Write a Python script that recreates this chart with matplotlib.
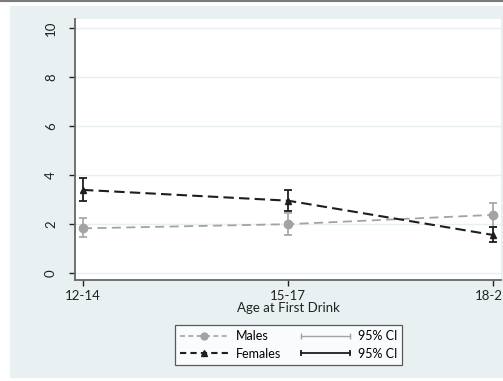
import matplotlib
matplotlib.use("Agg")
import matplotlib.pyplot as plt
from matplotlib.patches import Rectangle
from matplotlib.lines import Line2D
from matplotlib.legend_handler import HandlerLine2D

plt.rcParams['font.family'] = ['Lato', 'DejaVu Sans']

ages = ['12-14', '15-17', '18-25']
males = [1.82, 1.99, 2.37]
males_lo = [1.48, 1.53, 1.89]
males_hi = [2.23, 2.45, 2.84]
females = [3.39, 2.95, 1.55]
females_lo = [2.95, 2.54, 1.28]
females_hi = [3.88, 3.39, 1.87]

male_col = '#a3a3a3'
fem_col = '#1e1e1e'
panel_col = '#e9f0f2'

fig = plt.figure(figsize=(5.03, 3.81), dpi=100)
W, H = 503, 381

# graph region panel + top border line
fig.patches.append(Rectangle((10 / W, 1 - 378 / H), 493 / W, 372 / H,
                             transform=fig.transFigure, facecolor=panel_col,
                             edgecolor='none', zorder=-5))
fig.lines.append(Line2D([0, 1], [1 - 1 / H, 1 - 1 / H], transform=fig.transFigure,
                        color='#7a7a7a', lw=1.5, zorder=-4))

ax = fig.add_axes([75 / W, 1 - 280 / H, 426 / W, 261 / H])
ax.set_facecolor('white')

x = list(range(len(ages)))
m_err = [[m - l for m, l in zip(males, males_lo)], [h - m for m, h in zip(males, males_hi)]]
f_err = [[m - l for m, l in zip(females, females_lo)], [h - m for m, h in zip(females, females_hi)]]

ax.errorbar(x, males, yerr=m_err, fmt='none', ecolor=male_col, elinewidth=1.2,
            capsize=3, capthick=1.2, zorder=3)
ax.plot(x, males, color=male_col, ls=(0, (5, 3)), lw=1.3, marker='o', ms=6,
        zorder=4)
ax.errorbar(x, females, yerr=f_err, fmt='none', ecolor=fem_col, elinewidth=1.3,
            capsize=3, capthick=1.3, zorder=5)
ax.plot(x, females, color=fem_col, ls=(0, (5, 2.5)), lw=1.5, marker='^', ms=5,
        zorder=6)

ax.set_xlim(-0.039, 2.039)
ax.set_ylim(-0.29, 10.37)
ax.set_yticks([0, 2, 4, 6, 8, 10])
ax.set_xticks(x)
ax.set_xticklabels(ages, fontsize=9.5, color='#222222')
for lab in ax.get_yticklabels():
    lab.set_rotation(90)
    lab.set_va('center')
ax.tick_params(axis='y', labelsize=9.5, colors='#222222', length=4, width=1, pad=9)
ax.tick_params(axis='x', length=4, width=1, pad=3, colors='#222222')
ax.grid(axis='y', color='#e8eff1', lw=1)
ax.set_axisbelow(True)
for s in ['top', 'right']:
    ax.spines[s].set_visible(False)
for s in ['left', 'bottom']:
    ax.spines[s].set_color('#666666')
    ax.spines[s].set_linewidth(1.3)
ax.set_xlabel('Age at First Drink', fontsize=9.5, color='#222222', labelpad=0)

h_m = Line2D([], [], color=male_col, ls=(0, (3, 2)), lw=1.2, marker='o', ms=5)
h_f = Line2D([], [], color=fem_col, ls=(0, (3, 2)), lw=1.5, marker='^', ms=4.5)
h_mci = Line2D([], [], color=male_col, lw=1.0, marker='|', ms=5, mew=1.0)
h_fci = Line2D([], [], color=fem_col, lw=1.3, marker='|', ms=5, mew=1.3)
leg = fig.legend([h_m, h_f, h_mci, h_fci], ['Males', 'Females', '95% CI', '95% CI'],
                 ncol=2, loc='center', bbox_to_anchor=(288.5 / W, 1 - 345 / H),
                 fontsize=9, frameon=True, fancybox=False, edgecolor='#333333',
                 handlelength=3.9, columnspacing=1.6, handletextpad=0.6,
                 borderpad=0.4, labelspacing=0.45,
                 handler_map={h_mci: HandlerLine2D(numpoints=2, marker_pad=0),
                              h_fci: HandlerLine2D(numpoints=2, marker_pad=0)})
leg.get_frame().set_linewidth(0.9)

fig.savefig('out.png', dpi=100, facecolor='white')
